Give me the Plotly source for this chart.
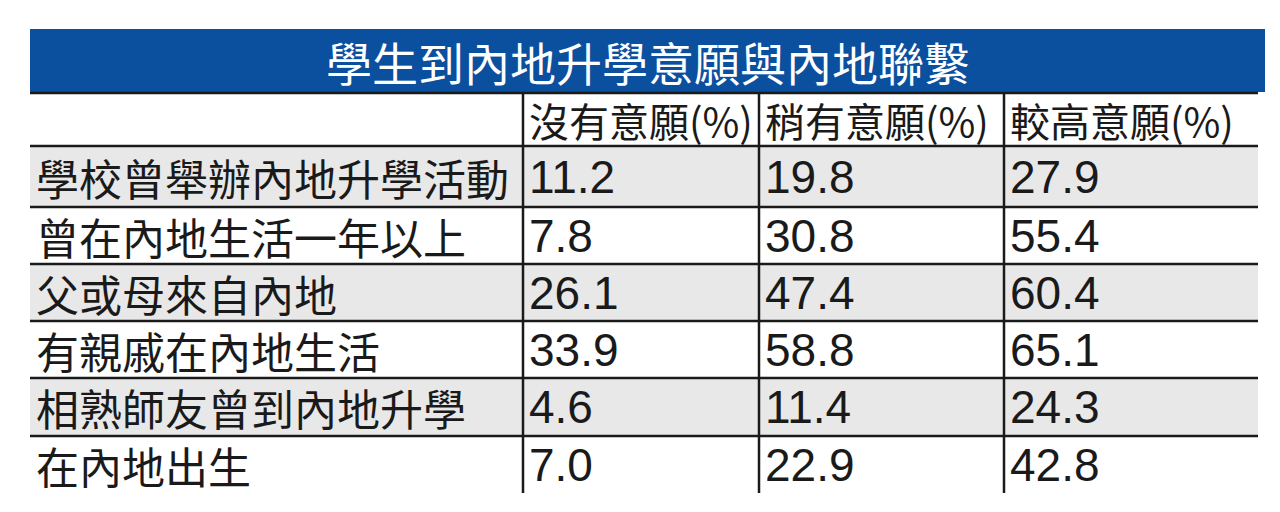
import plotly.graph_objects as go

title = "學生到內地升學意願與內地聯繫"
columns = ["沒有意願(%)", "稍有意願(%)", "較高意願(%)"]
rows = ["學校曾舉辦內地升學活動", "曾在內地生活一年以上", "父或母來自內地",
        "有親戚在內地生活", "相熟師友曾到內地升學", "在內地出生"]
no_will = ["11.2", "7.8", "26.1", "33.9", "4.6", "7.0"]
some_will = ["19.8", "30.8", "47.4", "58.8", "11.4", "22.9"]
high_will = ["27.9", "55.4", "60.4", "65.1", "24.3", "42.8"]

W, H = 1280, 512
L, R = 22, 1250
bar_top, bar_bot = 21, 84
row_edges = [85, 138, 199, 256, 313, 370, 428, 485]
col_x = [515, 751, 996]
CJK = "Noto Sans CJK TC"
NUM = "Liberation Sans Narrow, Liberation Sans, Arial"

shapes, ann = [], []
shapes.append(dict(type="rect", x0=L, x1=1257, y0=bar_top, y1=bar_bot, fillcolor="#0b4f9f", line=dict(width=0)))
ann.append(dict(x=(L+1257)/2, y=(bar_top+bar_bot)/2, text=title, showarrow=False,
                font=dict(family=CJK, size=46, color="white"), xanchor="center", yanchor="middle"))
for i in range(len(rows)):
    y0, y1 = row_edges[i+1], row_edges[i+2]
    if i % 2 == 0:
        shapes.append(dict(type="rect", x0=L, x1=R, y0=y0, y1=y1, fillcolor="#e8e8e8", line=dict(width=0), layer="below"))
for y in row_edges[:-1]:
    shapes.append(dict(type="line", x0=L, x1=R, y0=y, y1=y, line=dict(color="#1a1a1a", width=2.5)))
for x in col_x:
    shapes.append(dict(type="line", x0=x, x1=x, y0=row_edges[0], y1=row_edges[-1], line=dict(color="#1a1a1a", width=2.5)))

hy = (row_edges[0]+row_edges[1])/2
for x, c in zip(col_x, columns):
    ann.append(dict(x=x+4, y=hy, text=c, showarrow=False, xanchor="left", yanchor="middle",
                    font=dict(family=CJK, size=40, color="#1a1a1a")))
for i, r in enumerate(rows):
    cy = (row_edges[i+1]+row_edges[i+2])/2
    ann.append(dict(x=L+4, y=cy, text=r, showarrow=False, xanchor="left", yanchor="middle",
                    font=dict(family=CJK, size=43, color="#1a1a1a")))
    for x, v in zip(col_x, [no_will[i], some_will[i], high_will[i]]):
        ann.append(dict(x=x+4, y=cy, text=v, showarrow=False, xanchor="left", yanchor="middle",
                        font=dict(family=NUM, size=46, color="#1a1a1a")))

fig = go.Figure()
fig.update_layout(width=W, height=H, margin=dict(l=0, r=0, t=0, b=0),
                  paper_bgcolor="white", plot_bgcolor="white", shapes=shapes, annotations=ann,
                  xaxis=dict(range=[0, W], visible=False, fixedrange=True),
                  yaxis=dict(range=[H, 0], visible=False, fixedrange=True), showlegend=False)
fig.write_html("out.html")
